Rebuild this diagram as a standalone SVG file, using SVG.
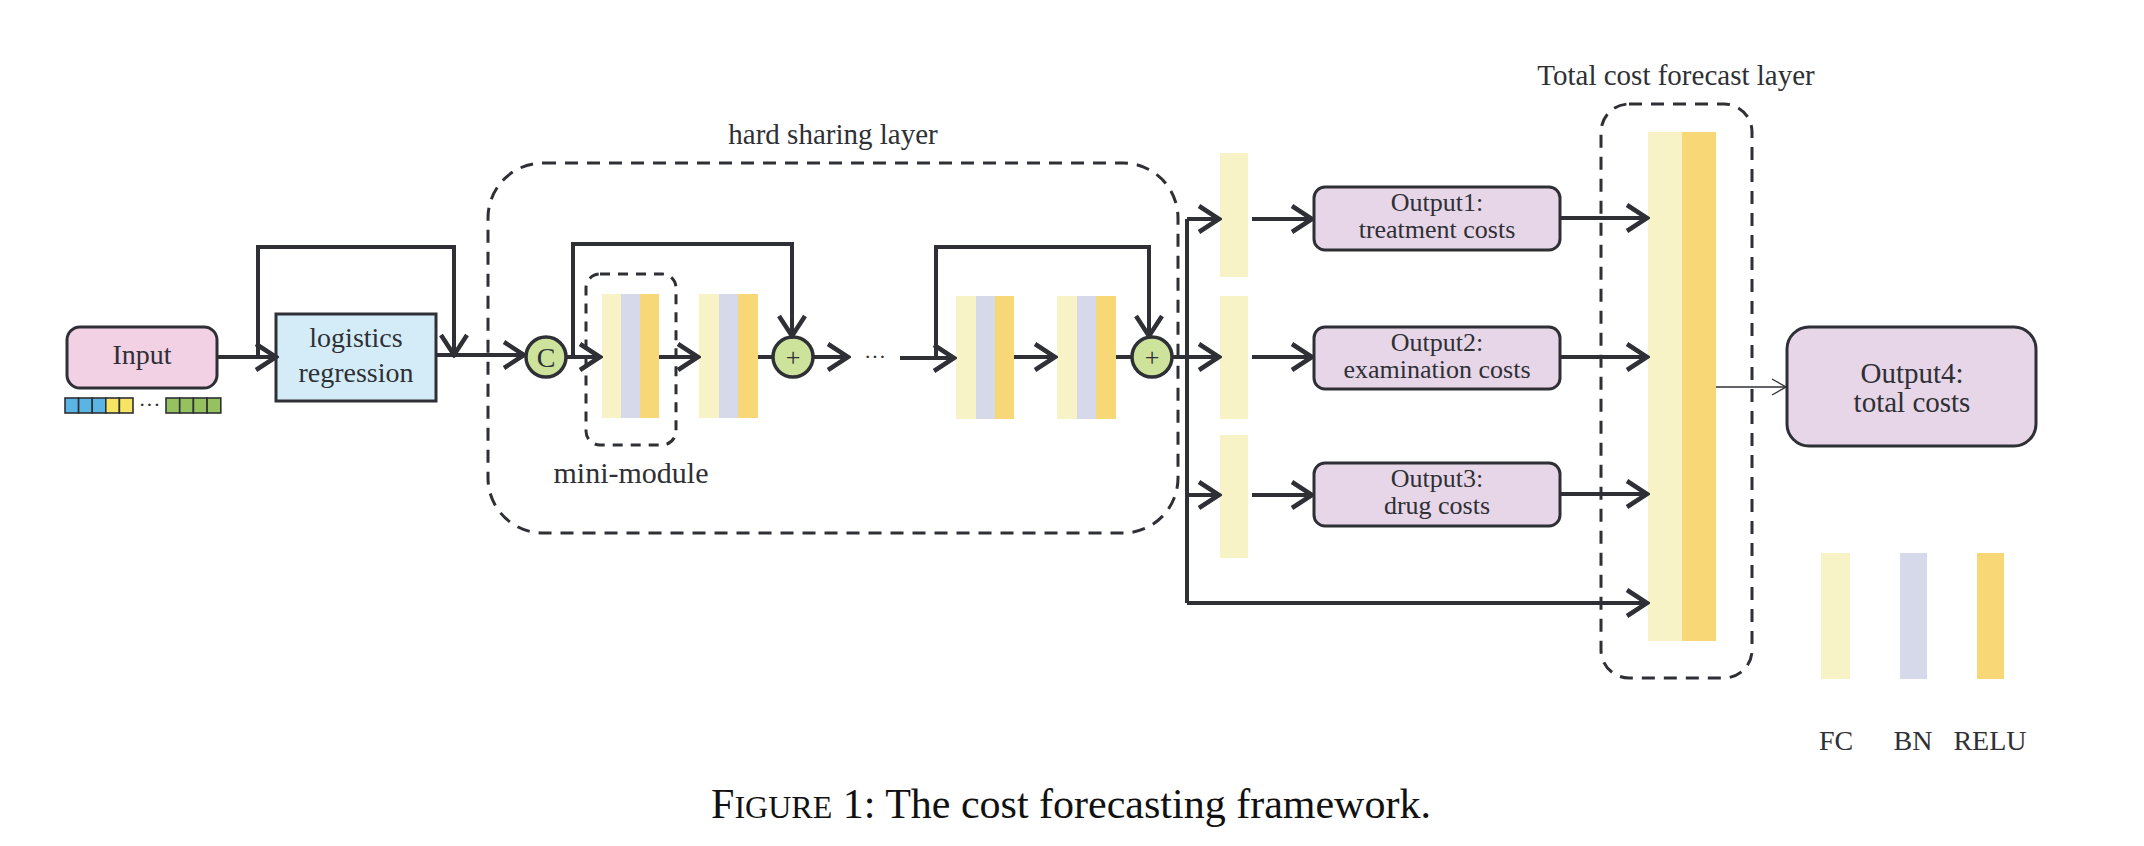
<svg xmlns="http://www.w3.org/2000/svg" width="2144" height="846" viewBox="0 0 2144 846">
<style>
text{font-family:"Liberation Serif","Times New Roman",serif;fill:#2e3035;text-anchor:middle}
.ln{fill:none;stroke:#2e3035;stroke-width:4;stroke-linejoin:miter}
.ar{marker-end:url(#ah)}
.dash{fill:none;stroke:#2e3035;stroke-width:3;stroke-dasharray:13 9}
.box{stroke:#2e3035;stroke-width:3}
.fc{fill:#f8f3c6}.bn{fill:#d5d9ea}.relu{fill:#f7d776}
.out{fill:#e7d6e8;stroke:#2e3035;stroke-width:3}
.circ{fill:#cde29a;stroke:#2e3035;stroke-width:3.5}
.sq{stroke:#2e3035;stroke-width:1.6}
.ot{font-size:26px}
</style>
<defs>
<marker id="ah" viewBox="0 0 26 32" refX="23" refY="16" markerWidth="26" markerHeight="32" markerUnits="userSpaceOnUse" orient="auto">
<path d="M3,3 L23,16 L3,29" fill="none" stroke="#2e3035" stroke-width="4.5"/>
</marker>
<marker id="ahthin" viewBox="0 0 16 20" refX="15" refY="10" markerWidth="16" markerHeight="20" markerUnits="userSpaceOnUse" orient="auto">
<path d="M1,2 L15,10 L1,18" fill="none" stroke="#2e3035" stroke-width="1.3"/>
</marker>
</defs>
<rect width="2144" height="846" fill="#ffffff"/>

<g id="hard-sharing-layer">
<rect class="dash" x="488" y="163" width="690" height="370" rx="55"/>
<text x="833" y="144" font-size="29">hard sharing layer</text>
</g>
<g id="mini-module">
<rect class="dash" x="586" y="274" width="90" height="171" rx="14" style="stroke-dasharray:10 8"/>
<text x="631" y="483" font-size="30">mini-module</text>
</g>
<g id="total-cost-forecast-layer">
<rect class="dash" x="1601" y="104" width="151" height="574" rx="28"/>
<text x="1676" y="85" font-size="29">Total cost forecast layer</text>
</g>

<g id="input">
<rect x="67" y="327" width="150" height="61" rx="13" fill="#f2d1e5" class="box"/>
<text x="142" y="364" font-size="28">Input</text>
<rect class="sq" x="65" y="398" width="13.6" height="15" fill="#5ab4e4"/>
<rect class="sq" x="78.6" y="398" width="13.6" height="15" fill="#5ab4e4"/>
<rect class="sq" x="92.2" y="398" width="13.6" height="15" fill="#5ab4e4"/>
<rect class="sq" x="105.8" y="398" width="13.6" height="15" fill="#f7e463"/>
<rect class="sq" x="119.4" y="398" width="13.6" height="15" fill="#f7e463"/>
<text x="149.5" y="412" font-size="22">···</text>
<rect class="sq" x="166" y="398" width="13.7" height="15" fill="#95c15e"/>
<rect class="sq" x="179.7" y="398" width="13.7" height="15" fill="#95c15e"/>
<rect class="sq" x="193.4" y="398" width="13.7" height="15" fill="#95c15e"/>
<rect class="sq" x="207.1" y="398" width="13.7" height="15" fill="#95c15e"/>
</g>

<g id="logistics-regression">
<rect x="276" y="314" width="160" height="87" fill="#d3ecf8" class="box"/>
<text x="356" y="347" font-size="28">logistics</text>
<text x="356" y="382" font-size="28">regression</text>
</g>

<g id="concat">
<circle class="circ" cx="546" cy="357" r="20"/>
<text x="546" y="367" font-size="28">C</text>
</g>

<g id="block1">
<rect class="fc" x="602" y="294" width="19" height="124"/>
<rect class="bn" x="621" y="294" width="19" height="124"/>
<rect class="relu" x="640" y="294" width="19" height="124"/>
</g>
<g id="block2">
<rect class="fc" x="699" y="294" width="20" height="124"/>
<rect class="bn" x="719" y="294" width="19" height="124"/>
<rect class="relu" x="738" y="294" width="20" height="124"/>
</g>
<g id="add1">
<circle class="circ" cx="793" cy="357" r="20"/>
<text x="793" y="366" font-size="26">+</text>
</g>
<g id="ellipsis">
<text x="875" y="364" font-size="22">···</text>
</g>
<g id="block3">
<rect class="fc" x="956" y="296" width="20" height="123"/>
<rect class="bn" x="976" y="296" width="19" height="123"/>
<rect class="relu" x="995" y="296" width="19" height="123"/>
</g>
<g id="block4">
<rect class="fc" x="1057" y="296" width="20" height="123"/>
<rect class="bn" x="1077" y="296" width="19" height="123"/>
<rect class="relu" x="1096" y="296" width="20" height="123"/>
</g>
<g id="add2">
<circle class="circ" cx="1152" cy="357" r="20"/>
<text x="1152" y="366" font-size="26">+</text>
</g>

<g id="task-bar1"><rect class="fc" x="1220" y="153" width="28" height="124"/></g>
<g id="task-bar2"><rect class="fc" x="1220" y="296" width="28" height="123"/></g>
<g id="task-bar3"><rect class="fc" x="1220" y="435" width="28" height="123"/></g>

<g id="output1">
<rect class="out" x="1314" y="187" width="246" height="63" rx="11"/>
<text class="ot" x="1437" y="211">Output1:</text>
<text class="ot" x="1437" y="238">treatment costs</text>
</g>
<g id="output2">
<rect class="out" x="1314" y="327" width="246" height="62" rx="11"/>
<text class="ot" x="1437" y="351">Output2:</text>
<text class="ot" x="1437" y="378">examination costs</text>
</g>
<g id="output3">
<rect class="out" x="1314" y="463" width="246" height="63" rx="11"/>
<text class="ot" x="1437" y="487">Output3:</text>
<text class="ot" x="1437" y="514">drug costs</text>
</g>

<g id="total-bar">
<rect class="fc" x="1648" y="132" width="34" height="509"/>
<rect class="relu" x="1682" y="132" width="34" height="509"/>
</g>

<g id="output4">
<rect class="out" x="1787" y="327" width="249" height="119" rx="22"/>
<text x="1912" y="383" font-size="29">Output4:</text>
<text x="1912" y="412" font-size="29">total costs</text>
</g>

<g id="legend">
<rect class="fc" x="1821" y="553" width="29" height="126"/>
<rect class="bn" x="1900" y="553" width="27" height="126"/>
<rect class="relu" x="1977" y="553" width="27" height="126"/>
<text x="1836" y="750" font-size="28">FC</text>
<text x="1913" y="750" font-size="28">BN</text>
<text x="1990" y="750" font-size="28">RELU</text>
</g>

<g id="connectors">
<path class="ln ar" d="M217,357 H276"/>
<path class="ln ar" d="M258,357 V247 H454 V355"/>
<path class="ln ar" d="M436,355 H524"/>
<path class="ln ar" d="M566,357 H600"/>
<path class="ln ar" d="M573,357 V244 H792 V336"/>
<path class="ln ar" d="M659,357 H698"/>
<path class="ln" d="M758,357 H773"/>
<path class="ln ar" d="M813,357 H848"/>
<path class="ln ar" d="M900,358 H954"/>
<path class="ln ar" d="M936,358 V247 H1149 V336"/>
<path class="ln ar" d="M1014,357 H1055"/>
<path class="ln" d="M1116,357 H1132"/>
<path class="ln ar" d="M1172,357 H1219"/>
<path class="ln" d="M1187,219 V603"/>
<path class="ln ar" d="M1187,219 H1219"/>
<path class="ln ar" d="M1187,495 H1219"/>
<path class="ln ar" d="M1187,603 H1647"/>
<path class="ln ar" d="M1252,219 H1312"/>
<path class="ln ar" d="M1252,357 H1312"/>
<path class="ln ar" d="M1252,495 H1312"/>
<path class="ln ar" d="M1560,218 H1647"/>
<path class="ln ar" d="M1560,357 H1647"/>
<path class="ln ar" d="M1560,494 H1647"/>
<path fill="none" stroke="#2e3035" stroke-width="1.3" marker-end="url(#ahthin)" d="M1716,387 H1786"/>
</g>

<g id="caption">
<text x="1071" y="818" font-size="42" style="fill:#111">F<tspan font-size="32">IGURE</tspan> 1: The cost forecasting framework.</text>
</g>
</svg>
